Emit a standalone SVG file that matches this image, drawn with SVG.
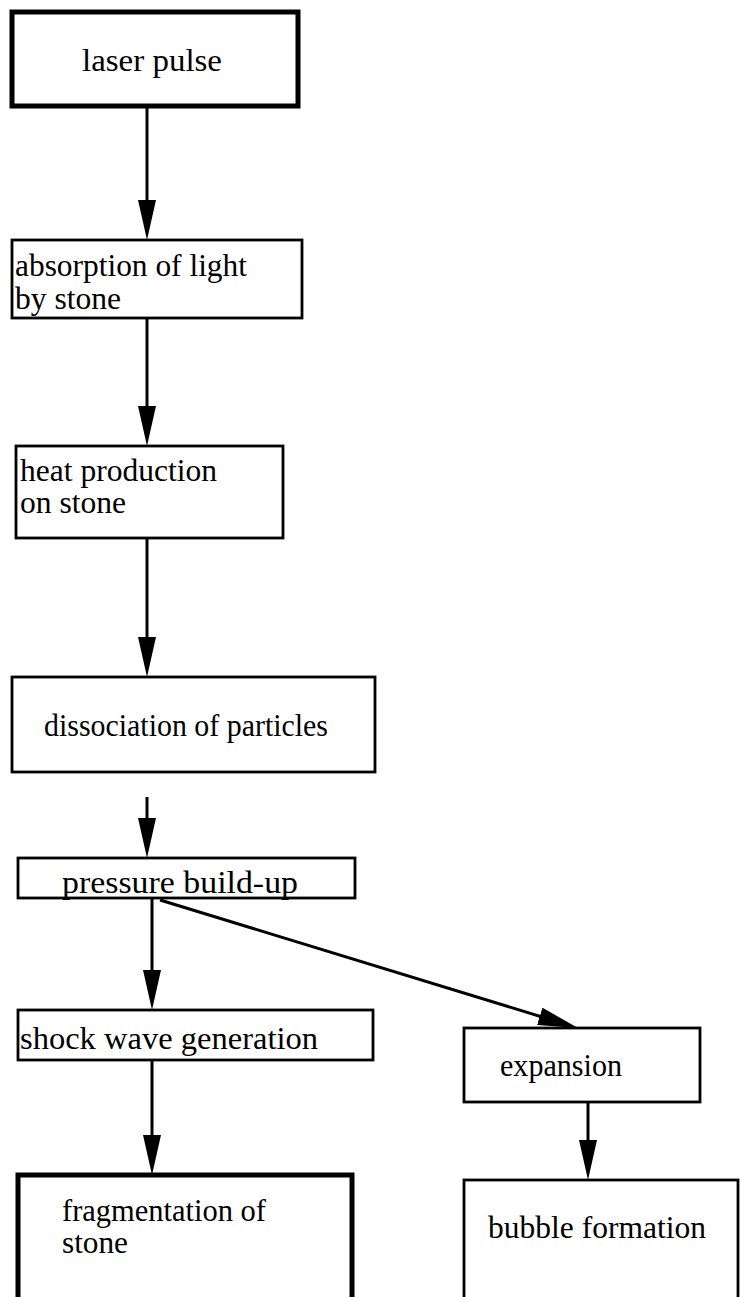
<svg xmlns="http://www.w3.org/2000/svg" width="741" height="1297" viewBox="0 0 741 1297">
<style>
.box{fill:#fff;stroke:#000;stroke-width:2.8}
.thick{stroke-width:5}
.lbl{font-family:"Liberation Serif","Times New Roman",serif;font-size:31px;fill:#000}
.conn{stroke:#000;stroke-width:3;fill:none;marker-end:url(#ah)}
</style>
<defs>
<marker id="ah" viewBox="0 0 40 18" refX="10" refY="9" markerWidth="40" markerHeight="18" markerUnits="userSpaceOnUse" orient="auto">
<path d="M0,0 L40,9 L0,18 Z" fill="#000"/>
</marker>
</defs>
<rect width="741" height="1297" fill="#fff"/>
<g id="connectors">
<line class="conn" x1="147" y1="106" x2="147" y2="210"/>
<line class="conn" x1="147" y1="318" x2="147" y2="416"/>
<line class="conn" x1="147" y1="538" x2="147" y2="647"/>
<line class="conn" x1="147" y1="797" x2="147" y2="828"/>
<line class="conn" x1="152" y1="898" x2="152" y2="980"/>
<line class="conn" x1="160" y1="900" x2="549.3" y2="1019.2"/>
<line class="conn" x1="152" y1="1060" x2="152" y2="1145"/>
<line class="conn" x1="588" y1="1102" x2="588" y2="1150"/>
</g>
<g id="n1"><rect class="box thick" x="12" y="12" width="286" height="94"/><text class="lbl" x="82" y="71" textLength="140" lengthAdjust="spacingAndGlyphs">laser pulse</text></g>
<g id="n2"><rect class="box" x="12" y="240" width="290" height="78"/><text class="lbl" x="15" y="276" textLength="232" lengthAdjust="spacingAndGlyphs">absorption of light</text><text class="lbl" x="15" y="309" textLength="106" lengthAdjust="spacingAndGlyphs">by stone</text></g>
<g id="n3"><rect class="box" x="16" y="446" width="267" height="92"/><text class="lbl" x="20" y="481" textLength="197" lengthAdjust="spacingAndGlyphs">heat production</text><text class="lbl" x="20" y="513" textLength="106" lengthAdjust="spacingAndGlyphs">on stone</text></g>
<g id="n4"><rect class="box" x="12" y="677" width="363" height="95"/><text class="lbl" x="44" y="736" textLength="284" lengthAdjust="spacingAndGlyphs">dissociation of particles</text></g>
<g id="n5"><rect class="box" x="18" y="858" width="337" height="40"/><text class="lbl" x="62" y="893" textLength="236" lengthAdjust="spacingAndGlyphs">pressure build-up</text></g>
<g id="n6"><rect class="box" x="18" y="1010" width="355" height="50"/><text class="lbl" x="20" y="1049" textLength="298" lengthAdjust="spacingAndGlyphs">shock wave generation</text></g>
<g id="n7"><rect class="box" x="464" y="1028" width="236" height="74"/><text class="lbl" x="500" y="1076" textLength="122" lengthAdjust="spacingAndGlyphs">expansion</text></g>
<g id="n8"><rect class="box thick" x="18" y="1175" width="334" height="130"/><text class="lbl" x="62" y="1221" textLength="204" lengthAdjust="spacingAndGlyphs">fragmentation of</text><text class="lbl" x="62" y="1253" textLength="66" lengthAdjust="spacingAndGlyphs">stone</text></g>
<g id="n9"><rect class="box" x="464" y="1180" width="274" height="125"/><text class="lbl" x="488" y="1238" textLength="218" lengthAdjust="spacingAndGlyphs">bubble formation</text></g>
</svg>
